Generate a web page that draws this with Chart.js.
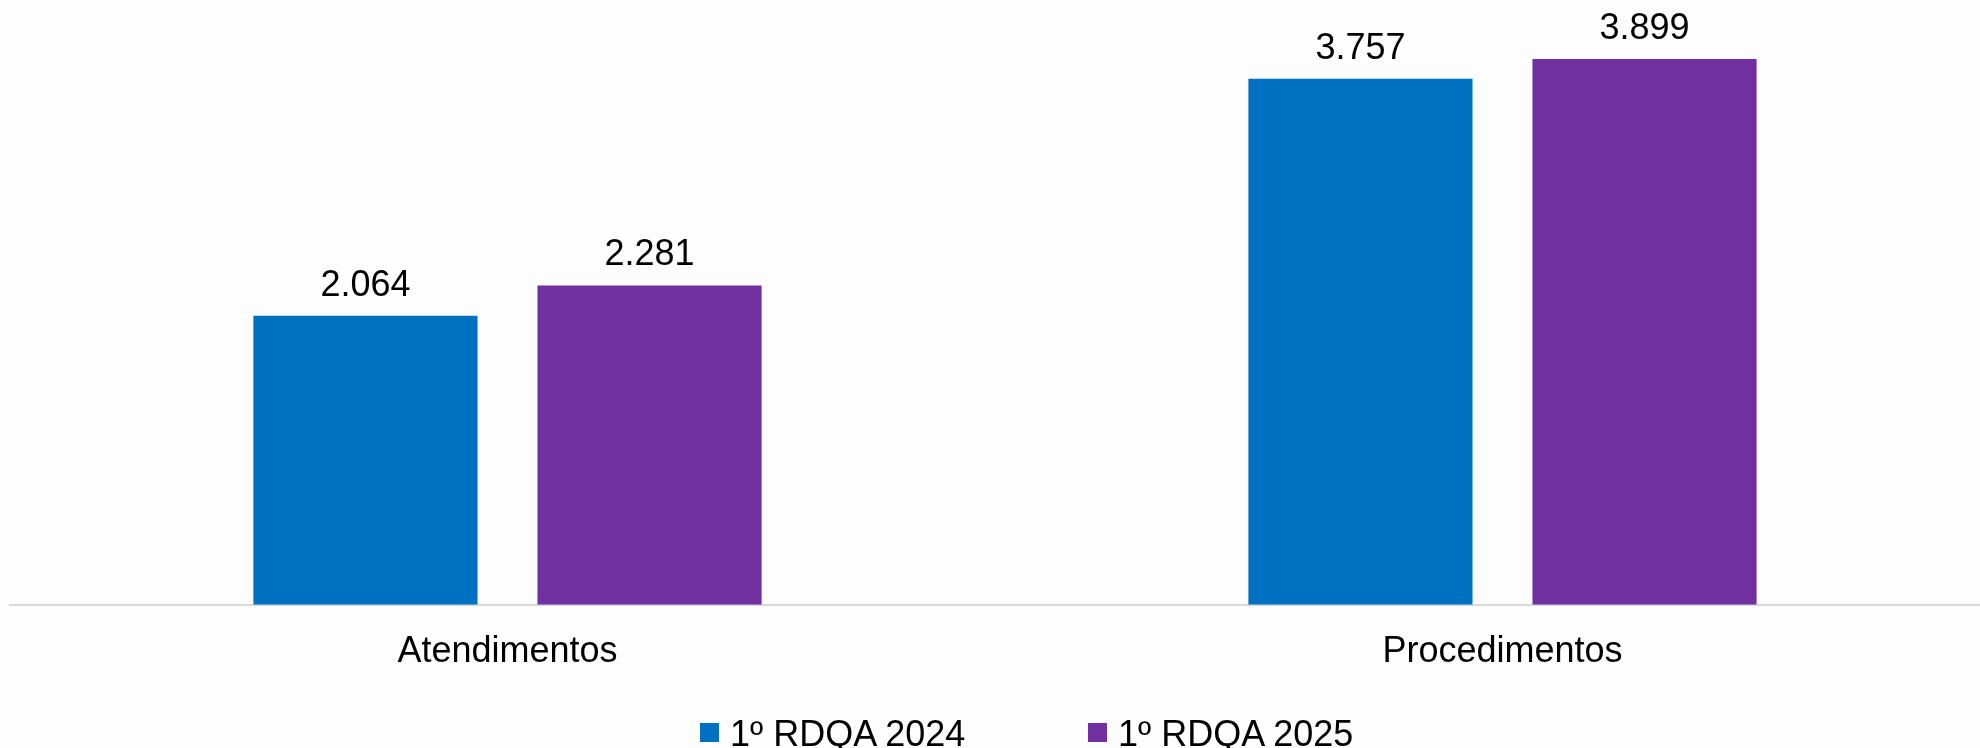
<!DOCTYPE html>
<html>
<head>
<meta charset="utf-8">
<script src="https://cdn.jsdelivr.net/npm/chart.js@4"></script>
<style>
  html, body { margin: 0; padding: 0; background: #fdfdfd; overflow: hidden; width: 1980px; height: 748px; }
  #wrap { position: absolute; left: 0; top: 0; width: 2000px; height: 700px; }
  #legend { position: absolute; left: 0; top: 0; width: 1980px; height: 748px; pointer-events: none; }
  .lg-box { position: absolute; width: 19px; height: 19px; top: 723px; }
  .lg-text { position: absolute; top: 713px; font: 36px "Liberation Sans", Arial, sans-serif; line-height: 41px; color: #000; white-space: nowrap; }
</style>
</head>
<body>
<div id="wrap"><canvas id="graph1"></canvas></div>
<div id="legend"></div>
<script>
// カテゴリとシリーズ
const CATEGORIES = ["Atendimentos", "Procedimentos"];
const SERIES_NAMES = ["1º RDQA 2024", "1º RDQA 2025"];
const RDQA_2024 = [2064, 3757];
const RDQA_2025 = [2281, 3899];
const COLORS = ["#0070C0", "#7030A0"];

const FONT = '"Liberation Sans", Arial, sans-serif';

// 2.064 の形式（ピリオド区切り）
function fmt(v){
    return String(v).replace(/\B(?=(\d{3})+(?!\d))/g, ".");
}

// 棒の上に値を描く
const valueLabels = {
    id: "valueLabels",
    afterDatasetsDraw(chart){
        const ctx = chart.ctx;
        ctx.save();
        ctx.font = "36px " + FONT;
        ctx.fillStyle = "#000";
        ctx.textAlign = "center";
        ctx.textBaseline = "alphabetic";
        chart.data.datasets.forEach((ds, i) => {
            chart.getDatasetMeta(i).data.forEach((bar, j) => {
                ctx.fillText(fmt(ds.data[j]), bar.x, bar.y - 20);
            });
        });
        ctx.restore();
    }
};

const ctx = document.getElementById("graph1").getContext("2d");
const chart = new Chart(ctx, {
    type: "bar",
    data: {
        labels: CATEGORIES,
        datasets: [
            { label: SERIES_NAMES[0], data: RDQA_2024, backgroundColor: COLORS[0] },
            { label: SERIES_NAMES[1], data: RDQA_2025, backgroundColor: COLORS[1] },
        ]
    },
    options: {
        responsive: true,
        maintainAspectRatio: false,
        animation: false,
        layout: { padding: { left: 10, right: 0, top: 0, bottom: 0 } },
        datasets: { bar: { categoryPercentage: 0.571, barPercentage: 0.789, borderWidth: 0 } },
        plugins: { legend: { display: false }, tooltip: { enabled: false } },
        scales: {
            x: {
                grid: { display: false, drawTicks: false },
                border: { display: true, color: "#d9d9d9", width: 2 },
                ticks: { color: "#000", font: { family: FONT, size: 36 }, padding: 26 }
            },
            y: { display: false, min: 0, max: 4320 }
        }
    },
    plugins: [valueLabels]
});

// 凡例（HTML）
const LEGEND_X = [700, 1088];
const legend = document.getElementById("legend");
SERIES_NAMES.forEach((name, i) => {
    const box = document.createElement("div");
    box.className = "lg-box";
    box.style.left = LEGEND_X[i] + "px";
    box.style.background = COLORS[i];
    legend.appendChild(box);
    const t = document.createElement("div");
    t.className = "lg-text";
    t.style.left = (LEGEND_X[i] + 30) + "px";
    t.textContent = name;
    legend.appendChild(t);
});
</script>
</body>
</html>
